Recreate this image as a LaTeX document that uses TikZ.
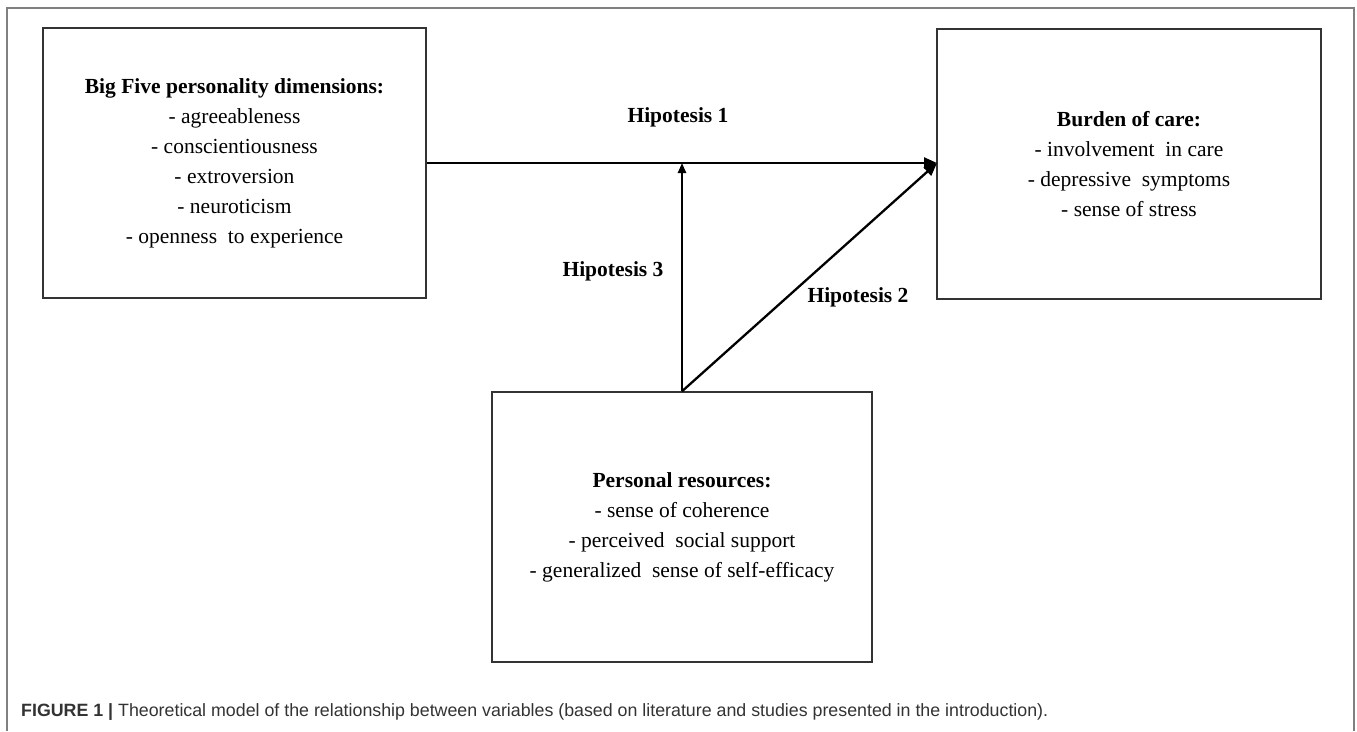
\documentclass[tikz,border=0pt]{standalone}
\usepackage{fontspec}
\setmainfont{Liberation Serif}
\setsansfont{Liberation Sans}
\usetikzlibrary{arrows.meta}
\begin{document}
\begin{tikzpicture}[x=1pt,y=-1pt,
  varbox/.style={draw=black!80,line width=1.4pt,align=center,inner sep=0pt,
    minimum height=270pt,font=\fontsize{21.5}{30}\selectfont},
  hyp/.style={font=\fontsize{21.5}{24}\selectfont\bfseries,inner sep=0pt},
  link/.style={line width=2.3pt,-{Triangle[length=13pt,width=11pt]}},
  frame/.style={draw=black!50,line width=1.4pt}]
\useasboundingbox (0,0) rectangle (1357,731);
\fill[white] (0,0) rectangle (1357,731);
\draw[frame] (7,731) -- (7,8) -- (1354,8) -- (1354,731);
\node[varbox,minimum width=383pt] (big) at (234.5,163)
  {\textbf{Big Five personality dimensions:}\\- agreeableness\\- conscientiousness\\- extroversion\\- neuroticism\\- openness\ \ to experience};
\node[varbox,minimum width=384pt] (bur) at (1129,164)
  {\textbf{Burden of care:}\\- involvement\ \ in care\\- depressive\ \ symptoms\\- sense of stress};
\node[varbox,minimum width=380pt] (per) at (682,527)
  {\textbf{Personal resources:}\\- sense of coherence\\- perceived\ \ social support\\- generalized\ \ sense of self-efficacy};
\coordinate (tgt) at (937,163);
\coordinate (mid) at (per.north |- tgt);
\draw[link] (big.east |- tgt) -- (tgt);
\draw[link,-{Triangle[length=10pt,width=8pt]}] (per.north) -- (mid);
\draw[link] (per.north) -- (tgt);
\node[hyp] (h1) at (678,117) {Hipotesis 1};
\node[hyp] (h3) at (613,271) {Hipotesis 3};
\node[hyp] (h2) at (858,297) {Hipotesis 2};
\node[anchor=west,inner sep=0pt,font=\sffamily\fontsize{17.8}{20}\selectfont,text=black!80] (cap) at (21,712)
  {\textbf{FIGURE 1 |} Theoretical model of the relationship between variables (based on literature and studies presented in the introduction).};
\end{tikzpicture}
\end{document}
